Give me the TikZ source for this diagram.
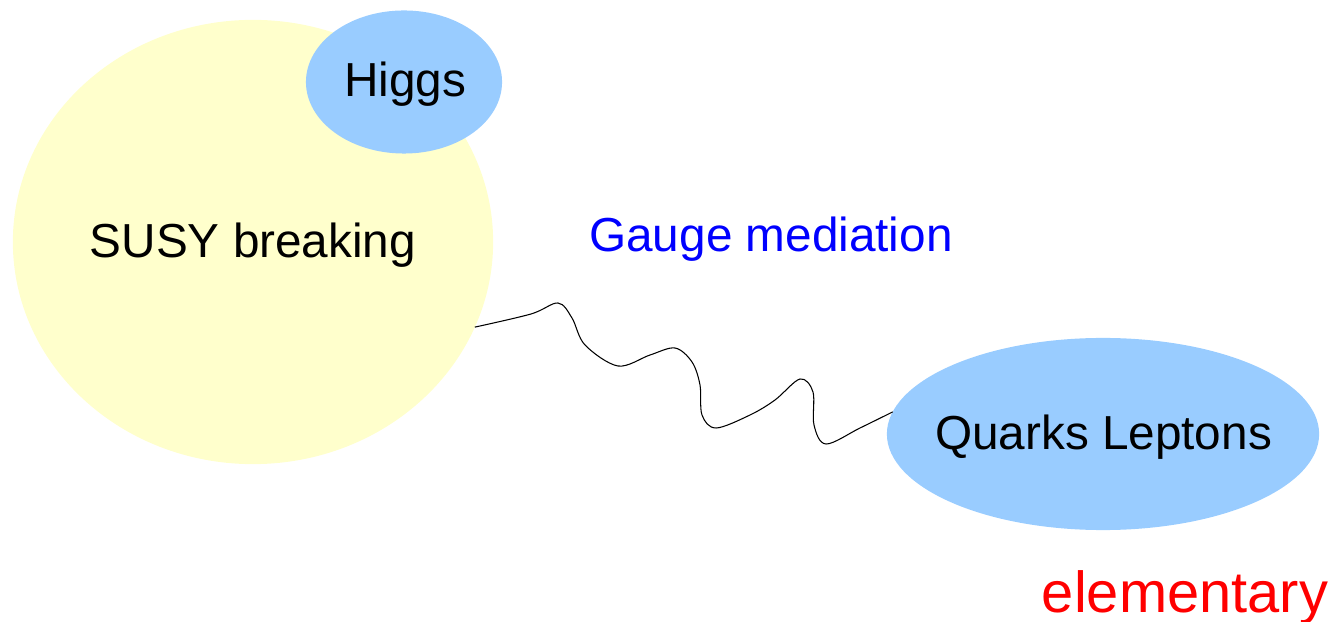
\documentclass[tikz,border=0pt]{standalone}
\usepackage{fontspec}
\setmainfont{Liberation Sans}
\usetikzlibrary{shapes.geometric}
\definecolor{paleyellow}{HTML}{FFFFCC}
\definecolor{skyblue}{HTML}{99CCFF}
\tikzset{
  blob/.style={ellipse, draw=none, inner sep=0pt, outer sep=0pt},
  caption/.style={inner sep=0pt, anchor=base, font=\fontsize{13.57}{16}\selectfont},
  wave/.style={draw=black, line width=0.3pt}
}
\begin{document}
\begin{tikzpicture}[x=0.01cm, y=-0.01cm]
\useasboundingbox (0,0) rectangle (1334,622);
% sectors
\node[blob, fill=paleyellow, minimum width=4.80cm, minimum height=4.44cm] (susy) at (253,242) {};
\node[blob, fill=skyblue, minimum width=1.96cm, minimum height=1.43cm] (higgs) at (404,82) {};
\node[blob, fill=skyblue, minimum width=4.32cm, minimum height=1.92cm] (quarks) at (1103,434) {};
% texts
\node[caption] (susylabel) at (253,258) {SUSY breaking};
\node[caption] (higgslabel) at (405,97) {Higgs};
\node[caption] (quarkslabel) at (1103.5,450) {Quarks Leptons};
\node[caption, text=blue] (gauge) at (771,252) {Gauge mediation};
\node[caption, text=red, font=\fontsize{16.45}{19}\selectfont] (elem) at (1185,612) {elementary};
% messenger line between the hidden and visible sectors
\coordinate (w0) at (susy.-21);
\coordinate (w1) at (quarks.174.7);
\draw[wave] plot[smooth, tension=0.55] coordinates {
  (w0) (531,314) (558,303) (572,318) (585,345) (618,366) (650,355) (675,348)
  (692,362) (700,385) (702,415) (716,428) (750,415) (775,400) (800,379)
  (813,392) (814,425) (826,444) (860,428) (w1)};
\end{tikzpicture}
\end{document}
